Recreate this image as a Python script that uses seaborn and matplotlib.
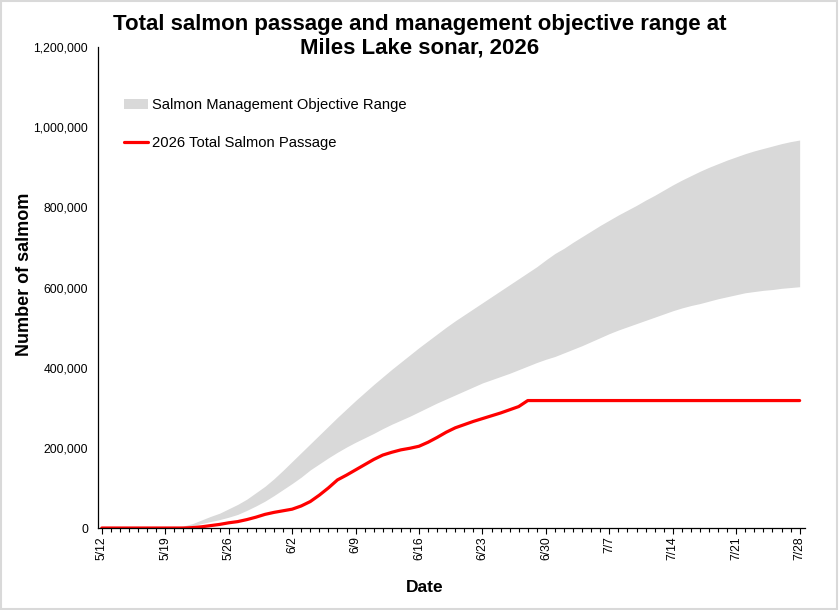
import pandas as pd
import numpy as np
import matplotlib
matplotlib.use("Agg")
import matplotlib.pyplot as plt
import matplotlib.dates as mdates
from matplotlib.patches import Rectangle
from matplotlib.ticker import FuncFormatter, FixedLocator
import seaborn as sns

# ------------------------------------------------------------
# datos (miles de peces por dia, 5/12 a 7/28)
# ------------------------------------------------------------
dates = pd.date_range("2026-05-12", "2026-07-28", freq="D")

upper_k = [0, 0, 0, 0, 0, 0, 0, 0, 2, 5,
           11, 20, 29, 37, 48, 59, 72, 88, 104, 123,
           144, 166, 188, 210, 232, 254, 276, 297, 318, 338,
           358, 377, 396, 414, 432, 450, 467, 484, 501, 517,
           532, 547, 562, 577, 592, 607, 622, 637, 652, 669,
           685, 698, 713, 727, 741, 755, 768, 781, 793, 805,
           818, 830, 843, 856, 868, 879, 890, 900, 909, 918,
           926, 934, 941, 947, 953, 959, 964, 968]

lower_k = [0, 0, 0, 0, 0, 0, 0, 0, 1, 3,
           6, 11, 16, 21, 27, 34, 44, 55, 67, 81,
           96, 111, 127, 145, 160, 175, 189, 202, 214, 225,
           236, 248, 259, 269, 279, 290, 301, 312, 322, 332,
           342, 352, 362, 370, 378, 386, 395, 404, 413, 421,
           428, 437, 446, 455, 465, 475, 485, 494, 502, 510,
           518, 526, 534, 542, 549, 555, 560, 566, 572, 577,
           582, 587, 590, 593, 595, 598, 600, 602]

passage_k = [0, 0, 0, 0, 0, 0, 0, 0, 0, 0,
             1, 3, 6, 9, 13, 16, 21, 27, 34, 39,
             43, 47, 55, 66, 82, 100, 120, 132, 145, 158,
             171, 182, 189, 195, 199, 204, 214, 226, 239, 250,
             258, 266, 273, 280, 287, 295, 303, 318, 318, 318,
             318, 318, 318, 318, 318, 318, 318, 318, 318, 318,
             318, 318, 318, 318, 318, 318, 318, 318, 318, 318,
             318, 318, 318, 318, 318, 318, 318, 318]

tick_labels = ["5/12", "5/19", "5/26", "6/2", "6/9", "6/16", "6/23",
               "6/30", "7/7", "7/14", "7/21", "7/28"]
y_ticks = [0, 200000, 400000, 600000, 800000, 1000000, 1200000]

df = pd.DataFrame({
    "date": dates,
    "upper": np.array(upper_k) * 1000,
    "lower": np.array(lower_k) * 1000,
    "passage": np.array(passage_k) * 1000,
})

# ------------------------------------------------------------
# grafico
# ------------------------------------------------------------
sns.set_theme(style="ticks")
plt.rcParams["font.family"] = ["Liberation Sans", "DejaVu Sans"]
plt.rcParams["text.color"] = "black"
plt.rcParams["axes.labelcolor"] = "black"
plt.rcParams["xtick.color"] = "black"
plt.rcParams["ytick.color"] = "black"

fig = plt.figure(figsize=(8.39, 6.10), dpi=100)
ax = fig.add_axes([0.1164, 0.1344, 0.843, 0.7885])

ax.fill_between(df["date"], df["lower"], df["upper"], color="#d9d9d9",
                linewidth=0, label="Salmon Management Objective Range")
sns.lineplot(data=df, x="date", y="passage", color="#ff0000", linewidth=2.3,
             label="2026 Total Salmon Passage", ax=ax)

ax.set_ylim(0, 1200000)
ax.set_xlim(dates[0] - pd.Timedelta(hours=11), dates[-1] + pd.Timedelta(hours=14))
ax.set_yticks(y_ticks)
ax.yaxis.set_major_formatter(FuncFormatter(lambda v, p: f"{int(v):,}"))

major = [mdates.date2num(d) for d in dates[::7]]
ax.xaxis.set_major_locator(FixedLocator(major))
ax.xaxis.set_minor_locator(FixedLocator([mdates.date2num(d) for d in dates]))
ax.set_xticklabels(tick_labels, rotation=90)

ax.tick_params(axis="x", which="major", length=4, width=0.8, pad=2,
               labelsize=8.7, colors="black", direction="out")
ax.tick_params(axis="x", which="minor", length=3, width=0.8, direction="out")
ax.tick_params(axis="y", length=0, pad=7, labelsize=8.7, colors="black")

for side in ["top", "right"]:
    ax.spines[side].set_visible(False)
for side in ["left", "bottom"]:
    ax.spines[side].set_color("black")
    ax.spines[side].set_linewidth(0.9)

ax.set_xlabel("Date", fontsize=12.5, fontweight="bold")
ax.set_ylabel("Number of salmom", fontsize=13, fontweight="bold")
ax.xaxis.set_label_coords(0.463, -0.108)
ax.yaxis.set_label_coords(-0.092, 0.528)

fig.suptitle("Total salmon passage and management objective range at\nMiles Lake sonar, 2026",
             fontsize=16, fontweight="bold", color="black", x=0.5, y=0.977,
             linespacing=1.17)

ax.legend(loc="upper left", bbox_to_anchor=(124 / 839, 1 - 98 / 610),
          bbox_transform=fig.transFigure, frameon=False, fontsize=10.6,
          handlelength=1.65, handletextpad=0.25, labelspacing=1.62,
          borderpad=0, borderaxespad=0)

# borde gris de la figura
fig.patches.append(Rectangle((0.001, 0.002), 0.997, 0.996, transform=fig.transFigure,
                             fill=False, edgecolor="#d9d9d9", linewidth=1.5))

plt.savefig("out.png", dpi=100)
